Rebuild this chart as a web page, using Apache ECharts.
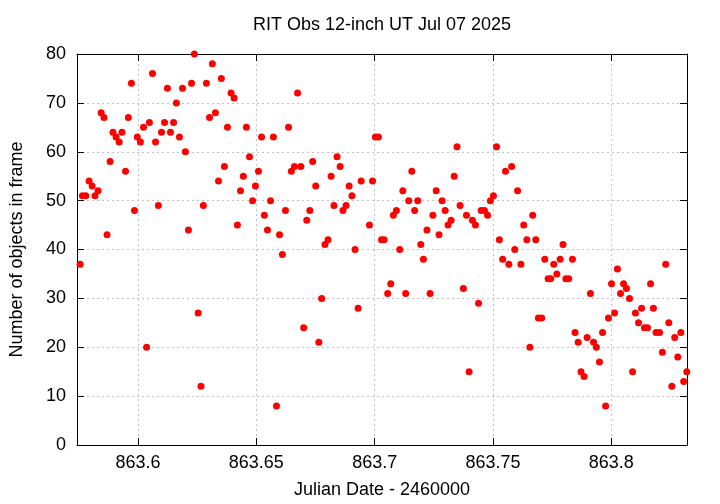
<!DOCTYPE html>
<html><head><meta charset="utf-8">
<script src="https://cdn.jsdelivr.net/npm/echarts@6/dist/echarts.min.js"></script>
<style>html,body{margin:0;padding:0;background:#fff}#c{width:720px;height:504px}</style>
</head><body><div id="c"></div><script>
const titleText = 'RIT Obs 12-inch UT Jul 07 2025';
const xName = 'Julian Date - 2460000';
const yName = 'Number of objects in frame';
const xTicks = [863.6, 863.65, 863.7, 863.75, 863.8];
const xTickLabels = ['863.6', '863.65', '863.7', '863.75', '863.8'];
const xMin = 863.5742, xMax = 863.832;
const yMin = 0, yMax = 80, yStep = 10;

const jd = [
863.5755,863.5765,863.5779,863.5793,863.5806,863.5818,863.5831,863.5844,863.5856,863.5869,
863.5882,863.5894,863.5907,863.5920,863.5932,863.5947,863.5959,863.5972,863.5985,863.5997,
863.6010,863.6023,863.6036,863.6048,863.6061,863.6074,863.6086,863.6099,863.6112,863.6124,
863.6137,863.6150,863.6162,863.6175,863.6188,863.6200,863.6213,863.6226,863.6238,863.6254,
863.6266,863.6276,863.6289,863.6302,863.6314,863.6327,863.6340,863.6352,863.6365,863.6378,
863.6393,863.6406,863.6420,863.6433,863.6445,863.6458,863.6471,863.6484,863.6496,863.6509,
863.6522,863.6534,863.6547,863.6560,863.6572,863.6585,863.6598,863.6610,863.6623,863.6636,
863.6648,863.6661,863.6674,863.6688,863.6700,863.6713,863.6726,863.6738,863.6751,863.6764,
863.6776,863.6790,863.6803,863.6816,863.6828,863.6841,863.6854,863.6866,863.6879,863.6892,
863.6904,863.6917,863.6930,863.6943,863.6978,863.6991,863.7003,863.7016,863.7029,863.7040,
863.7055,863.7068,863.7079,863.7092,863.7106,863.7119,863.7131,863.7144,863.7157,863.7169,
863.7182,863.7195,863.7206,863.7221,863.7234,863.7246,863.7260,863.7272,863.7285,863.7298,
863.7310,863.7323,863.7336,863.7348,863.7361,863.7375,863.7388,863.7399,863.7413,863.7426,
863.7439,863.7450,863.7464,863.7477,863.7489,863.7502,863.7515,863.7527,863.7541,863.7553,
863.7567,863.7579,863.7592,863.7604,863.7618,863.7630,863.7643,863.7656,863.7668,863.7681,
863.7692,863.7706,863.7719,863.7733,863.7744,863.7757,863.7770,863.7784,863.7796,863.7808,
863.7820,863.7836,863.7847,863.7860,863.7872,863.7885,863.7898,863.7912,863.7925,863.7937,
863.7950,863.7963,863.7976,863.7988,863.8001,863.8014,863.8026,863.8039,863.8052,863.8064,
863.8077,863.8090,863.8102,863.8115,863.8128,863.8140,863.8153,863.8166,863.8178,863.8189,
863.8204,863.8216,863.8230,863.8243,863.8256,863.8268,863.8281,863.8294,863.8306,863.8319
];
const counts = [
37,51,51,54,53,51,52,68,67,43,
58,64,63,62,64,56,67,74,48,63,
62,65,20,66,76,62,49,64,66,73,
64,66,70,63,73,60,44,74,80,27,
12,49,74,67,78,68,54,75,57,65,
72,71,45,52,55,65,59,50,53,56,
63,47,44,50,63,8,43,39,48,65,
56,57,72,57,24,46,48,58,53,21,
30,41,42,55,49,59,57,48,49,53,
51,40,28,54,45,54,63,63,42,42,
31,33,47,48,40,52,31,50,56,48,
50,41,38,44,31,47,52,43,50,48,
45,46,55,61,49,32,47,15,46,45,
29,48,48,47,50,51,61,42,38,56,
37,57,40,52,37,45,42,20,47,42,
26,26,38,34,34,37,35,38,41,34,
34,38,23,21,15,14,22,31,21,20,
17,23,8,26,33,27,36,31,33,32,
30,15,27,25,28,24,24,33,28,23,
23,19,37,25,12,22,18,23,13,15
];

const FONT = 'Liberation Sans';
const pts = jd.map((x, i) => [x, counts[i]]);
const gridLine = { show: true, lineStyle: { color: '#c4c4c4', type: [2, 3], width: 1 } };
const axLine = { show: true, onZero: false, lineStyle: { color: '#000', width: 1 } };
const fmtX = v => { const i = xTicks.findIndex(t => Math.abs(t - v) < 1e-6); return i >= 0 ? xTickLabels[i] : ''; };

const chart = echarts.init(document.getElementById('c'), null, { renderer: 'canvas' });
chart.setOption({
  animation: false,
  backgroundColor: '#fff',
  title: {
    text: titleText, left: 382, top: 16, padding: 0, textAlign: 'center',
    textStyle: { fontFamily: FONT, fontSize: 18, fontWeight: 'normal', color: '#000' }
  },
  grid: { left: 77, right: 33, top: 54, bottom: 58, containLabel: false },
  xAxis: [{
    type: 'value', min: xMin, max: xMax, position: 'bottom',
    name: xName, nameLocation: 'middle', nameGap: 36,
    nameTextStyle: { fontFamily: FONT, fontSize: 18, color: '#000' },
    axisLine: axLine,
    axisTick: { show: true, inside: true, length: 7, customValues: xTicks, lineStyle: { color: '#000' } },
    axisLabel: { show: true, customValues: xTicks, formatter: fmtX, margin: 9, fontFamily: FONT, fontSize: 18, color: '#000' },
    splitLine: gridLine
  }, {
    type: 'value', min: xMin, max: xMax, position: 'top',
    axisLine: axLine,
    axisTick: { show: true, inside: true, length: 7, customValues: xTicks, lineStyle: { color: '#000' } },
    axisLabel: { show: false, customValues: xTicks },
    splitLine: { show: false }
  }],
  yAxis: [{
    type: 'value', min: yMin, max: yMax, interval: yStep, position: 'left',
    name: yName, nameLocation: 'middle', nameGap: 51,
    nameTextStyle: { fontFamily: FONT, fontSize: 18, color: '#000' },
    axisLine: axLine,
    axisTick: { show: true, inside: true, length: 7, lineStyle: { color: '#000' } },
    axisLabel: { show: true, margin: 11, fontFamily: FONT, fontSize: 18, color: '#000' },
    splitLine: gridLine
  }, {
    type: 'value', min: yMin, max: yMax, interval: yStep, position: 'right',
    axisLine: axLine,
    axisTick: { show: true, inside: true, length: 7, lineStyle: { color: '#000' } },
    axisLabel: { show: false },
    splitLine: { show: false }
  }],
  series: [{
    type: 'scatter', xAxisIndex: 0, yAxisIndex: 0, data: pts,
    symbol: 'circle', symbolSize: 7, clip: false,
    itemStyle: { color: '#ff0000', opacity: 1 }
  }]
});
</script></body></html>
